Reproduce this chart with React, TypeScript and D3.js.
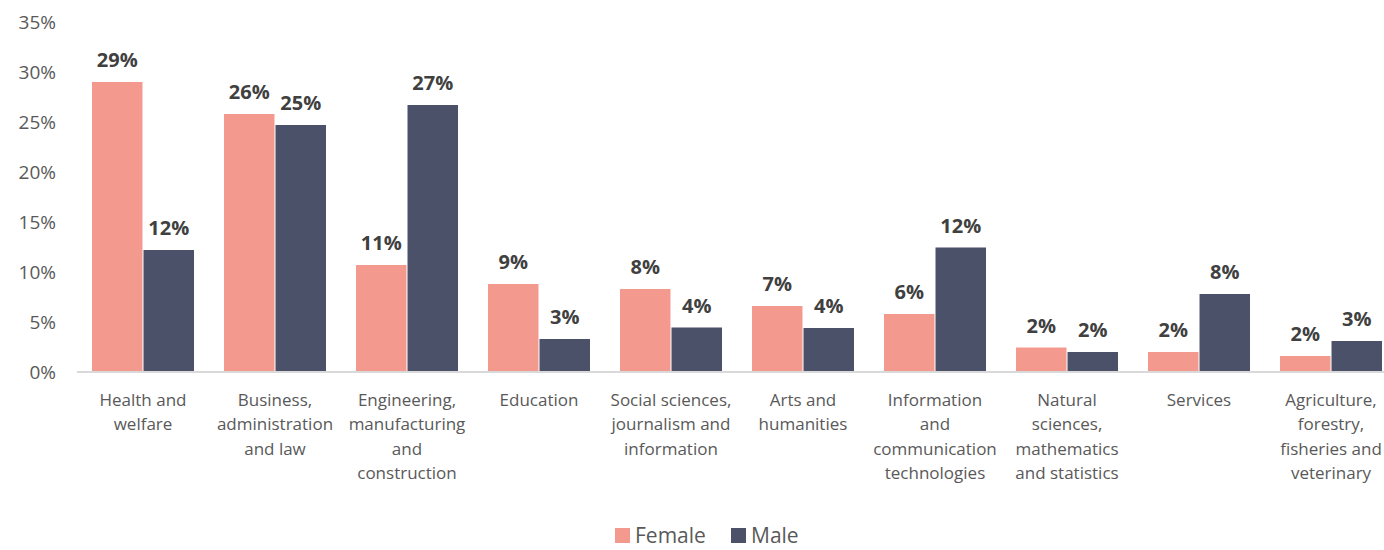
import React from "react";
import * as d3 from "d3";

const categories = [
  ["Health and", "welfare"],
  ["Business,", "administration", "and law"],
  ["Engineering,", "manufacturing", "and", "construction"],
  ["Education"],
  ["Social sciences,", "journalism and", "information"],
  ["Arts and", "humanities"],
  ["Information", "and", "communication", "technologies"],
  ["Natural", "sciences,", "mathematics", "and statistics"],
  ["Services"],
  ["Agriculture,", "forestry,", "fisheries and", "veterinary"],
];
const female = [29.0, 25.8, 10.7, 8.8, 8.3, 6.6, 5.8, 2.45, 2.0, 1.6];
const male = [12.2, 24.7, 26.7, 3.3, 4.45, 4.4, 12.45, 2.0, 7.8, 3.1];
const yTicks = [0, 5, 10, 15, 20, 25, 30, 35];
const seriesNames = ["Female", "Male"];
const colors = ["#F4998D", "#4A5169"];

const W = 1384;
const H = 550;
const FONT = "'Open Sans', 'Noto Sans', sans-serif";

export default function App() {
  const x0 = 77;
  const x1 = 77 + 132 * 10;
  const yBase = 372;
  const yTop = 22;
  const y = d3.scaleLinear().domain([0, 35]).range([yBase, yTop]);
  const band = d3
    .scaleBand<number>()
    .domain(d3.range(categories.length))
    .range([x0, x1])
    .paddingInner(0.2273)
    .paddingOuter(0.1136);
  const inner = d3
    .scaleBand<number>()
    .domain([0, 1])
    .range([0, band.bandwidth()])
    .paddingInner(0.02);
  const series = [female, male];

  return (
    <svg
      width={W}
      height={H}
      style={{ position: "absolute", left: 0, top: 0, background: "#fff" }}
      fontFamily={FONT}
    >
      {yTicks.map((t) => (
        <text
          key={t}
          x={56}
          y={y(t)}
          dy="0.35em"
          textAnchor="end"
          fontSize={19}
          fill="#595959"
        >
          {t}%
        </text>
      ))}
      {series.map((vals, si) =>
        vals.map((v, i) => {
          const bx = (band(i) as number) + (inner(si) as number);
          const bw = inner.bandwidth();
          return (
            <g key={`${si}-${i}`}>
              <rect
                x={bx}
                y={y(v)}
                width={bw}
                height={yBase - y(v)}
                fill={colors[si]}
              />
              <text
                x={bx + bw / 2}
                y={y(v) - 15}
                textAnchor="middle"
                fontSize={20}
                fontWeight="bold"
                fill="#404040"
              >
                {Math.round(v)}%
              </text>
            </g>
          );
        })
      )}
      <line x1={x0} x2={x1} y1={yBase} y2={yBase} stroke="#D9D9D9" strokeWidth={2} />
      {categories.map((lines, i) => {
        const cx = (band(i) as number) + band.bandwidth() / 2;
        return (
          <text key={i} textAnchor="middle" fontSize={17} fill="#595959">
            {lines.map((l, j) => (
              <tspan key={j} x={cx} y={400 + j * 24.5} dy="0.35em">
                {l}
              </tspan>
            ))}
          </text>
        );
      })}
      <g>
        {seriesNames.map((name, si) => {
          const lx = si === 0 ? 615 : 731;
          return (
            <g key={name}>
              <rect x={lx} y={528} width={15} height={15} fill={colors[si]} />
              <text x={lx + 20} y={543} fontSize={21} fill="#595959">
                {name}
              </text>
            </g>
          );
        })}
      </g>
    </svg>
  );
}
